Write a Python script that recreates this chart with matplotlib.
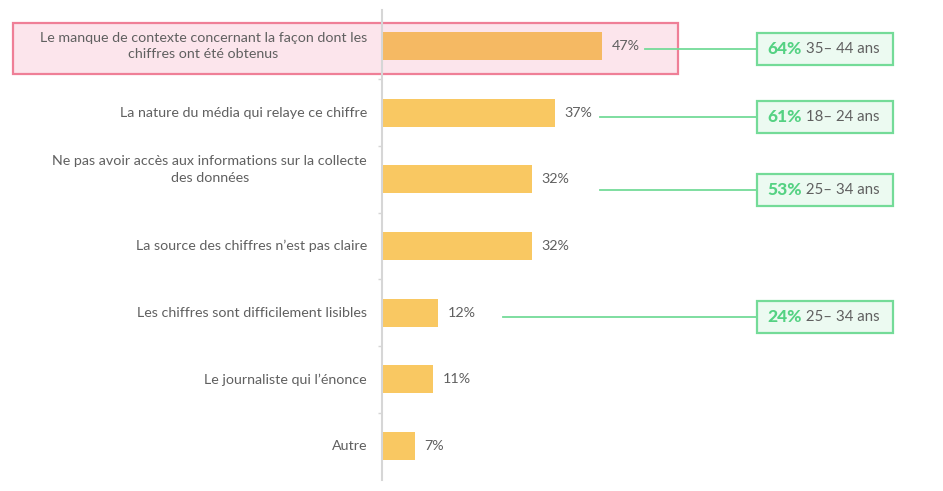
import matplotlib
matplotlib.use("Agg")
import matplotlib.pyplot as plt
from matplotlib.patches import Rectangle

# ---- data ----
categories = [
    "Le manque de contexte concernant la façon dont les\nchiffres ont été obtenus",
    "La nature du média qui relaye ce chiffre",
    "Ne pas avoir accès aux informations sur la collecte\ndes données",
    "La source des chiffres n’est pas claire",
    "Les chiffres sont difficilement lisibles",
    "Le journaliste qui l’énonce",
    "Autre",
]
values = [47, 37, 32, 32, 12, 11, 7]
callout_rows = [0, 1, 2, 4]
callout_values = ["64%", "61%", "53%", "24%"]
callout_ages = ["35– 44 ans", "18– 24 ans", "25– 34 ans", "25– 34 ans"]

# ---- layout / style ----
FONT = "Lato"
GRAY = "#606060"
GREEN = "#55d283"
GREEN_EDGE = "#74db98"
GREEN_FACE = "#ecfaf1"
label_dy = [0.0, 0.0, -0.15, 0.0, 0.0, 0.0, 0.0]
line_start = [56.2, 46.6, 46.6, 25.9]
callout_dy = [0.05, 0.06, 0.16, 0.07]
box_x0, box_w, box_h = 80.1, 29.1, 0.48

fig = plt.figure(figsize=(9.43, 4.91), dpi=100)
W, H = 943, 491
ax_left, ax_right = 382, 382 + 110 * 4.68
ax_top, ax_bot = 10, 480
ax = fig.add_axes([ax_left / W, (H - ax_bot) / H, (ax_right - ax_left) / W, (ax_bot - ax_top) / H])

y = list(range(len(categories)))
ax.set_xlim(0, 110)
ax.set_ylim(6.51, -0.54)

# highlight box behind row 0
ax.add_patch(Rectangle((-78.8, -0.345), 142.0, 0.765, facecolor="#fce5ec",
                       edgecolor="#ef7f97", linewidth=1.6, clip_on=False, zorder=0))

colors = ["#f5b963"] + ["#f9c862"] * (len(values) - 1)
ax.barh(y, values, height=0.42, color=colors, zorder=2)

for i, (v, lab) in enumerate(zip(values, categories)):
    ax.text(v + 2.0, i, f"{v}%", va="center", ha="left", fontsize=10.3,
            color=GRAY, family=FONT, fontweight="normal")
    ax.text(-3.2, i + label_dy[i], lab, va="center", ha="right", multialignment="center",
            fontsize=10.3, color=GRAY, family=FONT, fontweight="normal", linespacing=1.45)

for k, r in enumerate(callout_rows):
    cy = r + callout_dy[k]
    ax.plot([line_start[k], box_x0], [cy, cy], color=GREEN_EDGE, lw=1.3, zorder=1,
            clip_on=False)
    ax.add_patch(Rectangle((box_x0, cy - box_h / 2), box_w, box_h, facecolor=GREEN_FACE,
                           edgecolor=GREEN_EDGE, linewidth=1.6, clip_on=False, zorder=3))
    t = ax.text(box_x0 + 2.2, cy, callout_values[k], va="center", ha="left", fontsize=12.5,
                color=GREEN, family=FONT, fontweight="black", zorder=4)
    ax.annotate(" " + callout_ages[k], xycoords=t, xy=(1, 0.5), va="center", ha="left",
                fontsize=10.8, color=GRAY, family=FONT, fontweight="normal", zorder=4)

# axes styling
for s in ["top", "right", "bottom"]:
    ax.spines[s].set_visible(False)
ax.spines["left"].set_color("#d6d6d6")
ax.spines["left"].set_linewidth(1.5)
ax.set_xticks([])
ax.set_yticks([i + 0.5 for i in range(len(categories) - 1)])
ax.set_yticklabels([])
ax.tick_params(axis="y", length=3, color="#d6d6d6", width=1)

fig.savefig("out.png", dpi=100)
